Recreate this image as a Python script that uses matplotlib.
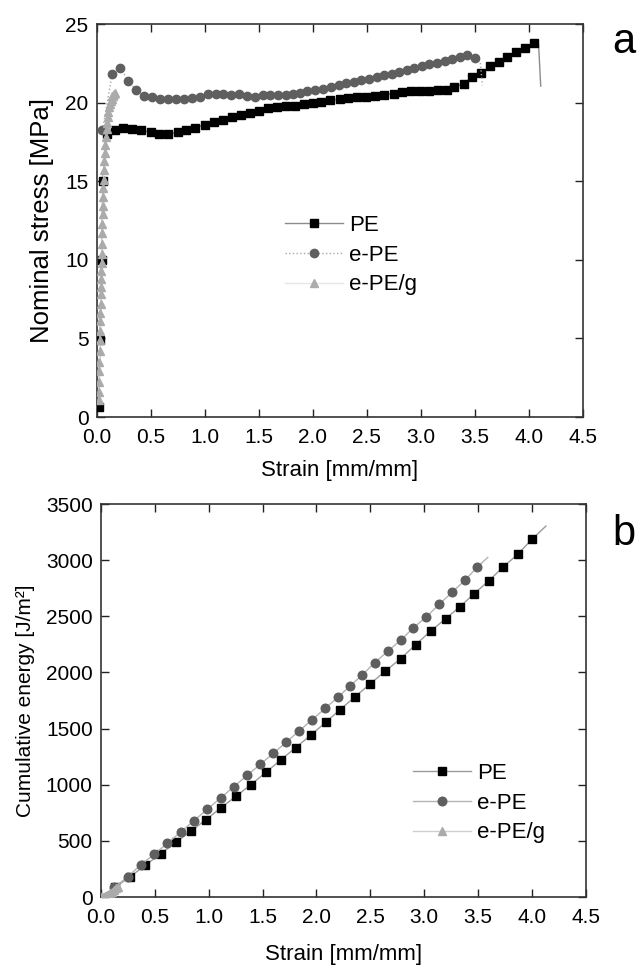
import matplotlib
matplotlib.use('Agg')
import matplotlib.pyplot as plt

plt.rcParams['font.family'] = ['Liberation Sans', 'DejaVu Sans']

# (a) nominal stress vs strain
pe_a_x = [0.018, 0.03, 0.045, 0.055, 0.09, 0.167, 0.244, 0.324, 0.41, 0.497, 0.577, 0.663, 0.747, 0.83,
          0.913, 1.0, 1.083, 1.167, 1.25, 1.333, 1.417, 1.5, 1.583, 1.667, 1.75, 1.833, 1.917, 2.0,
          2.08, 2.16, 2.25, 2.33, 2.41, 2.49, 2.58, 2.66, 2.75, 2.83, 2.91, 2.99, 3.08, 3.16, 3.24,
          3.31, 3.40, 3.47, 3.56, 3.64, 3.72, 3.80, 3.885, 3.965, 4.05, 4.09, 4.11]
pe_a_y = [0.66, 4.9, 10.0, 15.0, 18.0, 18.26, 18.36, 18.32, 18.26, 18.11, 17.98, 18.02, 18.11, 18.24,
          18.4, 18.6, 18.74, 18.91, 19.06, 19.2, 19.32, 19.5, 19.64, 19.72, 19.76, 19.78, 19.91, 20.0,
          20.07, 20.15, 20.22, 20.27, 20.33, 20.38, 20.44, 20.5, 20.57, 20.67, 20.76, 20.72, 20.76, 20.78, 20.82,
          21.0, 21.2, 21.6, 21.9, 22.3, 22.6, 22.9, 23.2, 23.5, 23.8, 23.7, 21.05]

epe_a_x = [0.052, 0.142, 0.219, 0.293, 0.364, 0.438, 0.512, 0.586, 0.663, 0.734,
           0.808, 0.88, 0.954, 1.025, 1.1, 1.17, 1.243, 1.315, 1.389, 1.463,
           1.534, 1.605, 1.68, 1.75, 1.82, 1.885, 1.947, 2.02, 2.09, 2.17,
           2.24, 2.31, 2.38, 2.45, 2.52, 2.59, 2.66, 2.73, 2.80, 2.87,
           2.94, 3.01, 3.08, 3.15, 3.22, 3.29, 3.36, 3.43, 3.50, 3.55, 3.57]
epe_a_y = [18.26, 21.82, 22.18, 21.37, 20.8, 20.42, 20.34, 20.21, 20.23, 20.25,
           20.21, 20.29, 20.38, 20.53, 20.53, 20.57, 20.48, 20.57, 20.44, 20.36,
           20.46, 20.48, 20.48, 20.5, 20.57, 20.63, 20.72, 20.8, 20.88, 20.99,
           21.1, 21.23, 21.33, 21.42, 21.52, 21.63, 21.73, 21.84, 21.97, 22.07,
           22.18, 22.3, 22.43, 22.54, 22.63, 22.75, 22.92, 23.03, 22.86, 22.6, 21.1]

epeg_a_x = [0.018, 0.019, 0.020, 0.021, 0.023, 0.026, 0.029, 0.031, 0.033, 0.034, 0.036, 0.038, 0.040,
            0.042, 0.043, 0.045, 0.047, 0.049, 0.050, 0.052, 0.053, 0.055, 0.057, 0.059, 0.062, 0.066,
            0.070, 0.074, 0.079, 0.084, 0.09, 0.095, 0.10, 0.105, 0.112, 0.12, 0.128, 0.136, 0.145,
            0.151, 0.158, 0.167]
epeg_a_y = [1.08, 1.6, 2.2, 2.9, 3.5, 4.2, 4.9, 5.5, 6.1, 6.6, 7.2, 7.8, 8.3, 8.8, 9.3, 9.8, 10.4,
            11.0, 11.7, 12.3, 12.9, 13.4, 14.0, 14.6, 15.1, 15.7, 16.3, 16.8, 17.3, 17.8, 18.3, 18.7,
            19.1, 19.4, 19.7, 19.9, 20.1, 20.25, 20.4, 20.45, 20.55, 20.6]

# (b) cumulative energy vs strain
pe_b_x = [0.0, 0.13, 0.269, 0.411, 0.553, 0.696, 0.835, 0.974, 1.113, 1.252, 1.39, 1.53, 1.667, 1.806,
          1.945, 2.084, 2.22, 2.359, 2.50, 2.64, 2.78, 2.92, 3.06, 3.20, 3.33, 3.46, 3.60, 3.73, 3.87,
          4.00, 4.13]
pe_b_y = [0, 85, 181, 282, 386, 487, 588, 689, 795, 897, 1000, 1110, 1220, 1330,
          1440, 1555, 1670, 1784, 1900, 2013, 2122, 2247, 2369, 2479, 2585, 2698, 2817, 2936, 3055,
          3186, 3304]

epe_b_x = [0.0, 0.124, 0.247, 0.368, 0.492, 0.615, 0.739, 0.863, 0.986, 1.11, 1.231, 1.357, 1.478,
           1.60, 1.72, 1.84, 1.96, 2.08, 2.20, 2.31, 2.424, 2.54, 2.66, 2.78, 2.90, 3.02, 3.14, 3.26,
           3.38, 3.49, 3.59]
epe_b_y = [0, 85, 181, 285, 380, 478, 579, 680, 781, 882, 982, 1084, 1182,
           1280, 1380, 1480, 1580, 1680, 1780, 1879, 1977, 2087, 2188, 2286, 2398, 2496, 2607, 2716,
           2823, 2936, 3025]

epeg_b_x = [0.0, 0.02, 0.04, 0.06, 0.08, 0.10, 0.12, 0.14, 0.16]
epeg_b_y = [0, 3, 10, 20, 32, 46, 60, 76, 92]

labels = ['PE', 'e-PE', 'e-PE/g']
x_ticks = [0.0, 0.5, 1.0, 1.5, 2.0, 2.5, 3.0, 3.5, 4.0, 4.5]

fig = plt.figure(figsize=(6.37, 9.66), dpi=100)
ax1 = fig.add_axes([0.152, 0.5683, 0.763, 0.4068])
ax2 = fig.add_axes([0.1586, 0.0714, 0.761, 0.4068])

# panel a
ax1.plot(pe_a_x, pe_a_y, color='#8c8c8c', lw=1, marker='s', ms=5.2, mfc='black', mec='black',
         markevery=slice(0, -2), label=labels[0], zorder=3)
ax1.plot(epe_a_x, epe_a_y, color='#a8a8a8', lw=1, ls=':', marker='o', ms=6, mfc='#5f5f5f',
         mec='#5f5f5f', markevery=slice(0, -2), label=labels[1], zorder=4)
ax1.plot(epeg_a_x, epeg_a_y, color='#e6e6e6', lw=1, marker='^', ms=6.2, mfc='#ababab',
         mec='#ababab', label=labels[2], zorder=5)

ax1.set_xlim(0, 4.5)
ax1.set_ylim(0, 25)
ax1.set_xticks(x_ticks)
ax1.set_xticklabels([f'{t:.1f}' for t in x_ticks])
ax1.set_yticks([0, 5, 10, 15, 20, 25])
ax1.set_xlabel('Strain [mm/mm]', fontsize=16, labelpad=9)
ax1.set_ylabel('Nominal stress [MPa]', fontsize=18.5, labelpad=8)
ax1.legend(loc='upper left', bbox_to_anchor=(0.387, 0.515), frameon=False, fontsize=16,
           handlelength=2.6, handletextpad=0.3, labelspacing=0.4, borderpad=0, borderaxespad=0)

# panel b
ax2.plot(pe_b_x, pe_b_y, color='#9a9a9a', lw=1, marker='s', ms=5.4, mfc='black', mec='black',
         markevery=slice(1, -1), label=labels[0], zorder=3)
ax2.plot(epe_b_x, epe_b_y, color='#b4b4b4', lw=1, marker='o', ms=6.2, mfc='#5f5f5f', mec='#5f5f5f',
         markevery=slice(1, -1), label=labels[1], zorder=4)
ax2.plot(epeg_b_x, epeg_b_y, color='#cfcfcf', lw=1, marker='^', ms=6.2, mfc='#ababab', mec='#ababab',
         label=labels[2], zorder=5)

ax2.set_xlim(0, 4.5)
ax2.set_ylim(0, 3500)
ax2.set_xticks(x_ticks)
ax2.set_xticklabels([f'{t:.1f}' for t in x_ticks])
ax2.set_yticks(range(0, 3501, 500))
ax2.set_xlabel('Strain [mm/mm]', fontsize=16, labelpad=12)
ax2.set_ylabel('Cumulative energy [J/m²]', fontsize=15, labelpad=8)
ax2.legend(loc='upper left', bbox_to_anchor=(0.643, 0.342), frameon=False, fontsize=16,
           handlelength=2.6, handletextpad=0.3, labelspacing=0.4, borderpad=0, borderaxespad=0)

for ax in (ax1, ax2):
    ax.tick_params(direction='in', length=6, width=1, top=True, right=True, labelsize=15,
                   colors='#222222', labelcolor='black')
    ax.tick_params(axis='x', pad=8)
    ax.tick_params(axis='y', pad=6)
    for sp in ax.spines.values():
        sp.set_linewidth(1.2)
        sp.set_color('#333333')

fig.text(0.98, 0.945, 'a', fontsize=30, ha='center', va='baseline')
fig.text(0.98, 0.436, 'b', fontsize=30, ha='center', va='baseline')

plt.savefig('out.png', dpi=100)
